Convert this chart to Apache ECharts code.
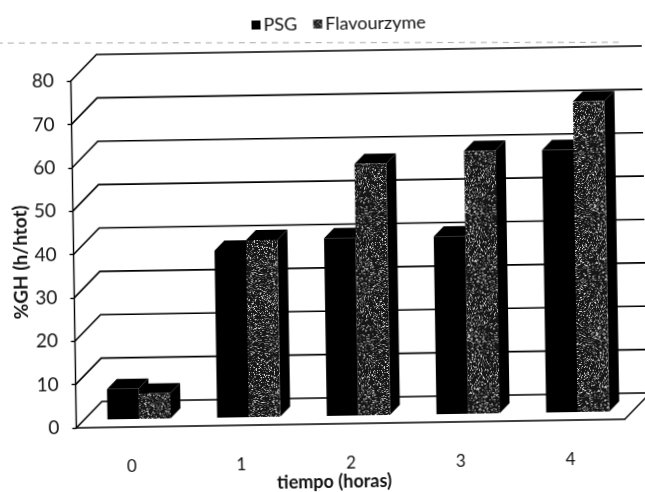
<!DOCTYPE html>
<html>
<head>
<meta charset="utf-8">
<script src="https://cdn.jsdelivr.net/npm/echarts@6/dist/echarts.min.js"></script>
<style>
html, body { margin: 0; padding: 0; background: #fff; overflow: hidden; }
#main { width: 645px; height: 492px; transform: rotate(-0.9deg); transform-origin: 322px 246px; }
</style>
</head>
<body>
<div id="main"></div>
<script>
var horas = ['0', '1', '2', '3', '4'];
var psg = [7, 38.5, 41, 41, 60.5];
var flavourzyme = [5.8, 40.8, 58, 60.6, 71.6];
var yTicks = [0, 10, 20, 30, 40, 50, 60, 70, 80];

var fontName = 'Lato';
var wallDepth = 26;   // profundidad de la pared del fondo
var barGap = 8;       // hueco entre el borde del piso y la barra
var barDepth = 10;
var barShare = 0.288; // ancho de barra / ancho de categoria

// textura punteada de la serie Flavourzyme
function makeSpeckle() {
	var c = document.createElement('canvas');
	c.width = 128;
	c.height = 128;
	var ctx = c.getContext('2d');
	ctx.fillStyle = '#161616';
	ctx.fillRect(0, 0, 128, 128);
	for (var y = 0; y < 128; y++) {
		for (var x = 0; x < 128; x++) {
			var h = Math.sin(x * 12.9898 + y * 78.233) * 43758.5453;
			h = h - Math.floor(h);
			if (h > 0.92) {
				ctx.fillStyle = '#dedede';
				ctx.fillRect(x, y, 1, 1);
			} else if (h > 0.72) {
				ctx.fillStyle = '#6c6c6c';
				ctx.fillRect(x, y, 1, 1);
			}
		}
	}
	return c;
}
var speckle = { image: makeSpeckle(), repeat: 'repeat' };

function bar3d(offset, frontFill) {
	return function (params, api) {
		var w = api.size([1, 0])[0] * barShare;
		var base = api.coord([api.value(0), 0]);
		var top = api.coord([api.value(0), api.value(1)]);
		var x0 = base[0] + barGap + offset * w - w;
		var x1 = x0 + w;
		var y0 = base[1] - barGap;
		var y1 = top[1] - barGap;
		return {
			type: 'group',
			children: [{
				type: 'polygon',
				shape: { points: [[x1, y0], [x1 + barDepth, y0 - barDepth], [x1 + barDepth, y1 - barDepth], [x1, y1]] },
				style: { fill: '#000' }
			}, {
				type: 'polygon',
				shape: { points: [[x0, y1], [x0 + barDepth, y1 - barDepth], [x1 + barDepth, y1 - barDepth], [x1, y1]] },
				style: { fill: '#000' }
			}, {
				type: 'rect',
				shape: { x: x0, y: y1, width: w, height: y0 - y1 },
				style: { fill: frontFill }
			}]
		};
	};
}

function wallLine(params, api) {
	var v = api.value(1);
	var p = api.coord([0, v]);
	var left = params.coordSys.x;
	var right = left + params.coordSys.width;
	var points = [[left, p[1]], [left + wallDepth, p[1] - wallDepth], [right + wallDepth + 20, p[1] - wallDepth]];
	var children = [{
		type: 'polyline',
		shape: { points: points },
		style: { fill: null, stroke: '#000', lineWidth: 1.6 }
	}];
	if (v === 0) {
		children.push({
			type: 'line',
			shape: { x1: right, y1: p[1], x2: right + wallDepth, y2: p[1] - wallDepth },
			style: { stroke: '#000', lineWidth: 1.4 }
		});
	}
	return { type: 'group', children: children };
}

var myChart = echarts.init(document.getElementById('main'));

var option = {
	animation: false,
	backgroundColor: '#fff',
	textStyle: { fontFamily: fontName, color: '#111' },
	legend: {
		left: 250,
		top: 10,
		icon: 'rect',
		itemWidth: 9,
		itemHeight: 9,
		itemGap: 16,
		data: ['PSG', 'Flavourzyme'],
		textStyle: { fontFamily: fontName, fontSize: 18, color: '#111', padding: [0, 0, 0, -2] }
	},
	grid: { left: 73.5, right: 23, top: 77, bottom: 68, outerBoundsMode: 'none' },
	xAxis: {
		type: 'category',
		data: horas,
		name: 'tiempo (horas)',
		nameLocation: 'middle',
		nameGap: 49,
		nameMoveOverlap: false,
		nameTextStyle: { fontFamily: fontName, fontSize: 18, fontWeight: 'bold', color: '#111', padding: [0, 34, 0, 0] },
		axisLine: { lineStyle: { color: '#000', width: 1.6 } },
		axisTick: { show: false },
		axisLabel: { margin: 31, fontSize: 17, color: '#111' }
	},
	yAxis: {
		type: 'value',
		min: 0,
		max: 80,
		interval: 10,
		name: '%GH (h/htot)',
		nameLocation: 'middle',
		nameGap: 43,
		nameMoveOverlap: false,
		nameTextStyle: { fontFamily: fontName, fontSize: 19, fontWeight: 'bold', color: '#111', padding: [0, 14, 0, 0] },
		splitLine: { show: false },
		axisLine: { show: true, lineStyle: { color: '#000', width: 1.4 } },
		axisTick: { show: true, length: 4, lineStyle: { color: '#000', width: 1.4 } },
		axisLabel: { margin: 17, fontSize: 19, color: '#111' }
	},
	graphic: [{
		type: 'line',
		silent: true,
		shape: { x1: 0, y1: 38, x2: 622, y2: 47 },
		style: { stroke: '#aaa', lineWidth: 1, lineDash: [6, 5] }
	}],
	series: [{
		name: 'pared',
		type: 'custom',
		silent: true,
		clip: false,
		z: 1,
		renderItem: wallLine,
		data: yTicks.map(function (v) { return [0, v]; }),
		encode: { x: 0, y: 1 }
	}, {
		name: 'PSG',
		type: 'custom',
		clip: false,
		z: 2,
		itemStyle: { color: '#000' },
		renderItem: bar3d(0, '#000'),
		data: psg.map(function (v, i) { return [i, v]; }),
		encode: { x: 0, y: 1 }
	}, {
		name: 'Flavourzyme',
		type: 'custom',
		clip: false,
		z: 3,
		itemStyle: { color: speckle },
		renderItem: bar3d(1, speckle),
		data: flavourzyme.map(function (v, i) { return [i, v]; }),
		encode: { x: 0, y: 1 }
	}]
};
myChart.setOption(option);
</script>
</body>
</html>
